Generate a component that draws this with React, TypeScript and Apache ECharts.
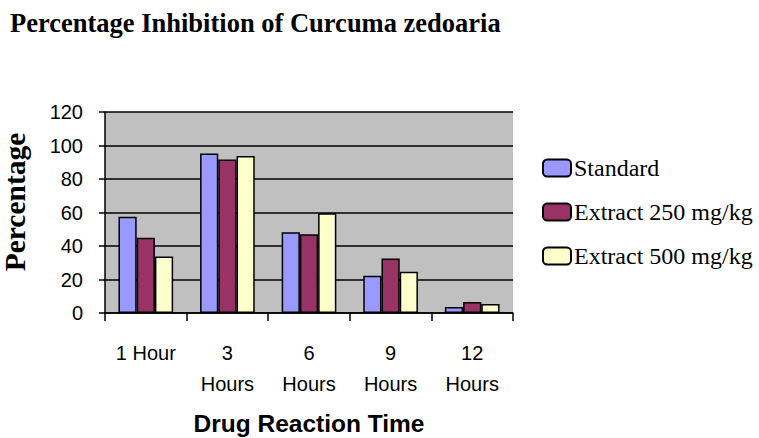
import React, { useEffect, useRef } from "react";
import * as echarts from "echarts";

const categories = ["1 Hour", "3\nHours", "6\nHours", "9\nHours", "12\nHours"];
const standard = [57.5, 95.2, 48.2, 22.2, 3.6];
const extract250 = [45, 91.7, 47, 32.5, 6.5];
const extract500 = [33.7, 93.8, 59.5, 24.6, 5.4];
const seriesNames = ["Standard", "Extract 250 mg/kg", "Extract 500 mg/kg"];
const colors = ["#9999FF", "#993366", "#FFFFCC"];

const GRID = { left: 105, top: 112, width: 408, height: 201 };

export default function App() {
  const ref = useRef<HTMLDivElement>(null);
  useEffect(() => {
    if (!ref.current) return;
    const chart = echarts.init(ref.current, undefined, { renderer: "svg" });
    const data = [standard, extract250, extract500];
    chart.setOption({
      animation: false,
      backgroundColor: "transparent",
      title: {
        text: "Percentage Inhibition of Curcuma zedoaria",
        left: 5,
        top: 4,
        textStyle: {
          fontFamily: "Liberation Serif",
          fontWeight: "bold",
          fontSize: 26.5,
          color: "#000",
        },
      },
      legend: {
        orient: "vertical",
        left: 537,
        top: 151,
        itemWidth: 28,
        itemHeight: 17,
        itemGap: 20,
        icon: "roundRect",
        data: seriesNames,
        textStyle: {
          fontFamily: "Liberation Serif",
          fontSize: 24,
          lineHeight: 24,
          color: "#000",
          padding: [0, 0, 0, -2],
        },
      },
      graphic: [
        {
          type: "text",
          x: 15,
          y: 202,
          rotation: Math.PI / 2,
          style: {
            text: "Percentage",
            fontFamily: "Liberation Serif",
            fontWeight: "bold",
            fontSize: 29.5,
            fill: "#000",
            textAlign: "center",
            textVerticalAlign: "middle",
          },
        },
      ],
      grid: {
        ...GRID,
        outerBoundsMode: "none",
        containLabel: false,
        show: false,
      },
      xAxis: {
        type: "category",
        data: categories,
        name: "Drug Reaction Time",
        nameLocation: "middle",
        nameGap: 98,
        nameTextStyle: {
          fontFamily: "Liberation Sans",
          fontWeight: "bold",
          fontSize: 24.5,
          color: "#000",
        },
        axisLine: { show: true, lineStyle: { color: "#000", width: 1.5 } },
        axisTick: { show: true, length: 8, lineStyle: { color: "#000", width: 1.5 } },
        axisLabel: {
          fontFamily: "Liberation Sans",
          fontSize: 20,
          lineHeight: 31,
          color: "#000",
          margin: 24,
          interval: 0,
          verticalAlign: "top",
        },
        splitLine: { show: false },
      },
      yAxis: {
        type: "value",
        min: 0,
        max: 120,
        interval: 20,
        axisLine: { show: true, lineStyle: { color: "#000", width: 1.5 } },
        axisTick: { show: true, length: 6, lineStyle: { color: "#000", width: 1.5 } },
        axisLabel: {
          fontFamily: "Liberation Sans",
          fontSize: 20,
          color: "#000",
          margin: 22,
        },
        splitLine: {
          show: true,
          lineStyle: { color: "#000000", width: 1.5 },
        },
      },
      series: seriesNames.map((name, i) => ({
        name,
        type: "bar",
        data: data[i],
        barGap: "0%",
        barCategoryGap: "33%",
        itemStyle: {
          color: colors[i],
          borderColor: "#000",
          borderWidth: 1.5,
        },
      })),
    });
    return () => chart.dispose();
  }, []);
  return (
    <div style={{ position: "absolute", left: 0, top: 0, width: 759, height: 438, background: "#ffffff" }}>
      <div
        style={{
          position: "absolute",
          left: GRID.left,
          top: GRID.top,
          width: GRID.width,
          height: GRID.height,
          background: "#C0C0C0",
        }}
      />
      <div ref={ref} style={{ width: 759, height: 438, position: "absolute", left: 0, top: 0 }} />
    </div>
  );
}
